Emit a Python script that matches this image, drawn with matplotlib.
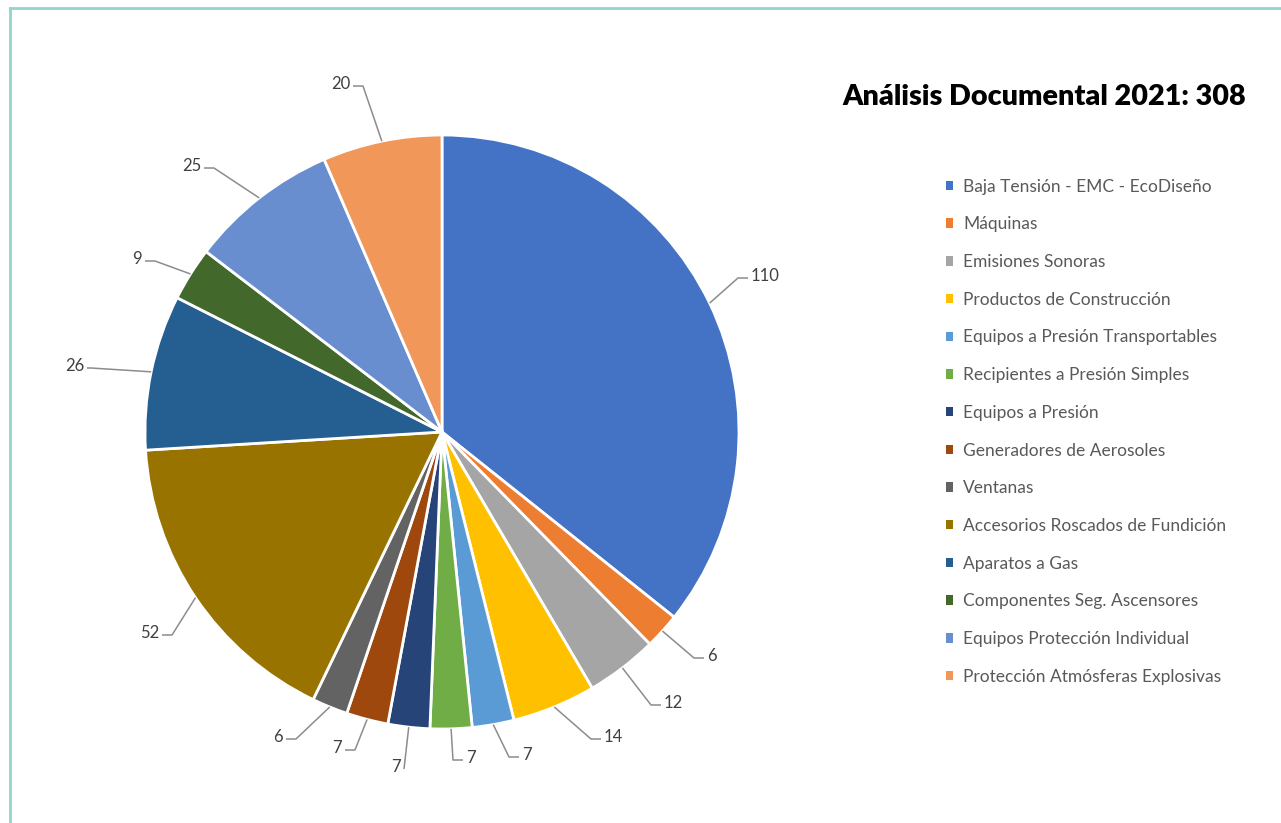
from matplotlib import pyplot as plt
from matplotlib.lines import Line2D
import numpy as np

categories = [
    "Baja Tensión - EMC - EcoDiseño",
    "Máquinas",
    "Emisiones Sonoras",
    "Productos de Construcción",
    "Equipos a Presión Transportables",
    "Recipientes a Presión Simples",
    "Equipos a Presión",
    "Generadores de Aerosoles",
    "Ventanas",
    "Accesorios Roscados de Fundición",
    "Aparatos a Gas",
    "Componentes Seg. Ascensores",
    "Equipos Protección Individual",
    "Protección Atmósferas Explosivas",
]
counts = [110, 6, 12, 14, 7, 7, 7, 7, 6, 52, 26, 9, 25, 20]
colors = [
    "#4472C4", "#ED7D31", "#A5A5A5", "#FFC000", "#5B9BD5", "#70AD47", "#264478",
    "#9E480E", "#636363", "#997300", "#255E91", "#43682B", "#698ED0", "#F1975A",
]
title = "Análisis Documental 2021: "

# label anchors in pixels (from the top-left corner), text side, elbow length
label_pos = [
    (751, 276, "left", 10), (707, 656, "left", 10), (664, 703, "left", 10),
    (604, 737, "left", 10), (522, 755, "left", 10), (466, 758, "left", 10),
    (401, 767, "right", 0), (342, 748, "right", 10), (283, 737, "right", 10),
    (159, 633, "right", 10), (84, 366, "right", 4), (142, 259, "right", 10),
    (201, 166, "right", 10), (350, 84, "right", 10),
]

W, H = 1281, 823
CX, CY, R = 442, 432, 297
FONT = ["Lato", "DejaVu Sans"]


def px(x, y):
    return x, H - y


def main():
    fig = plt.figure(figsize=(W / 100, H / 100), dpi=100)
    ax = fig.add_axes([0, 0, 1, 1])

    wedges, _ = ax.pie(
        counts, colors=colors, startangle=90, counterclock=False,
        radius=R, center=px(CX, CY),
        wedgeprops=dict(edgecolor="white", linewidth=2),
    )
    ax.set_xlim(0, W)
    ax.set_ylim(0, H)
    ax.axis("off")

    # data labels with leader lines
    for w, n, (tx, ty, ha, elb) in zip(wedges, counts, label_pos):
        theta = np.deg2rad((w.theta1 + w.theta2) / 2)
        ex, ey = w.center[0] + R * np.cos(theta), w.center[1] + R * np.sin(theta)
        sign = -1 if ha == "left" else 1
        end = px(tx + 3 * sign, ty + 2)
        elbow = (end[0] + elb * sign, end[1])
        ax.plot([ex, elbow[0], end[0]], [ey, elbow[1], end[1]],
                color="#8C8C8C", lw=1.1, solid_capstyle="butt")
        ax.text(*px(tx, ty), str(n), ha=ha, va="center", fontsize=12,
                color="#404040", family=FONT)

    fig.text(842 / W, 1 - 97 / H, f"{title}{sum(counts)}", ha="left", va="center",
             fontsize=20.7, fontweight="heavy", color="black", family=FONT)

    leg = ax.legend(
        wedges, categories, loc="upper left", bbox_to_anchor=(930 / W, 1 - 163 / H),
        bbox_transform=fig.transFigure, frameon=False, handlelength=0.45,
        handleheight=0.45, handletextpad=0.55, labelspacing=1.25,
        prop=dict(family=FONT, size=12.5),
    )
    for t in leg.get_texts():
        t.set_color("#595959")
    for h in leg.legend_handles:
        h.set_edgecolor("none")

    # thin frame along the top and left edges
    fig.add_artist(Line2D([10 / W, 1], [1 - 8 / H, 1 - 8 / H], color="#8FD6CC", lw=2))
    fig.add_artist(Line2D([10 / W, 10 / W], [0, 1 - 8 / H], color="#8FD6CC", lw=2))

    fig.savefig("out.png", dpi=100)


if __name__ == "__main__":
    main()
